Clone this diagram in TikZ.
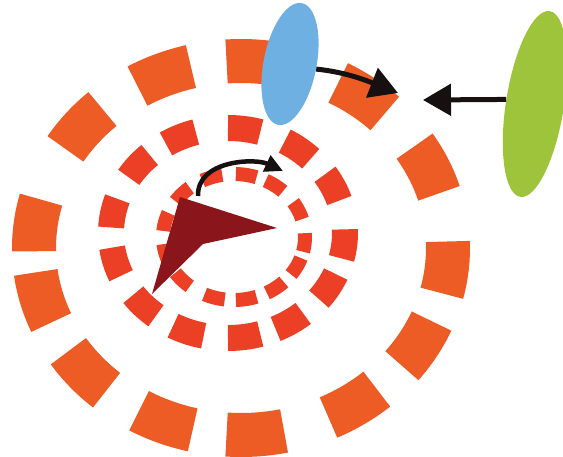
\documentclass[tikz,border=0pt]{standalone}
\usetikzlibrary{shapes.geometric,arrows.meta}
\definecolor{ringout}{RGB}{238,92,38}
\definecolor{ringin}{RGB}{236,64,38}
\definecolor{dartred}{RGB}{138,22,28}
\definecolor{skyb}{RGB}{110,176,226}
\definecolor{limeg}{RGB}{157,196,58}
\definecolor{ink}{RGB}{22,16,16}
\begin{document}
\begin{tikzpicture}[x=1pt,y=-1pt,
  outerdash/.style={draw=ringout,line width=44pt},
  middash/.style={draw=ringin,line width=26pt},
  innerdash/.style={draw=ringin,line width=14pt},
  bigarrow/.style={draw=ink,line width=5pt,-{Triangle[length=28pt,width=31pt]}},
  smallarrow/.style={draw=ink,line width=4.5pt,-{Triangle[length=18pt,width=17pt]}},
  blob/.style={ellipse,draw=none,inner sep=0pt}]
\useasboundingbox (0,0) rectangle (563,456);
% outer ring
\foreach \a in {6,31,57,86,111.5,138.5,164.5,187,220,248,274,306,335}{
  \pgfmathsetmacro\s{\a-8}\pgfmathsetmacro\e{\a+8}
  \draw[outerdash] plot[domain=\s:\e,samples=12,smooth] ({241+207*cos(\x)},{248+187*sin(\x)});
}
% middle ring
\foreach \a in {6,31,58,82,110,136,164,191,220,246,278,307,334}{
  \pgfmathsetmacro\s{\a-8}\pgfmathsetmacro\e{\a+8}
  \draw[middash] plot[domain=\s:\e,samples=10,smooth] ({228+117*cos(\x)},{233+105*sin(\x)});
}
% inner ring
\foreach \a in {5,28,54,80,106,137,165,194,223,252,280,305,335}{
  \pgfmathsetmacro\s{\a-8.5}\pgfmathsetmacro\e{\a+8.5}
  \draw[innerdash] plot[domain=\s:\e,samples=8,smooth] ({234+71*cos(\x)},{237+63*sin(\x)});
}
% dart
\coordinate (d1) at (180,197);
\coordinate (d2) at (277,228);
\coordinate (d3) at (203,244);
\coordinate (d4) at (152,294);
\fill[dartred] (d1) -- (d2) -- (d3) -- (d4) -- cycle;
% ellipses
\node[blob,fill=skyb,minimum width=53pt,minimum height=124pt,rotate=-11] (blue) at (290,64) {};
\node[blob,fill=limeg,minimum width=58pt,minimum height=188pt,rotate=-9] (green) at (535,104) {};
% arrows
\coordinate (s1) at (198,196);
\coordinate (t1) at (283,171);
\draw[smallarrow] (s1) .. controls (197,160) and (255,158) .. (t1);
\coordinate (tA) at (398,93);
\draw[bigarrow] (blue.east) .. controls (345,72) and (365,80) .. (tA);
\coordinate (tB) at (423,100);
\draw[bigarrow] (green.west) -- (tB);
\end{tikzpicture}
\end{document}
